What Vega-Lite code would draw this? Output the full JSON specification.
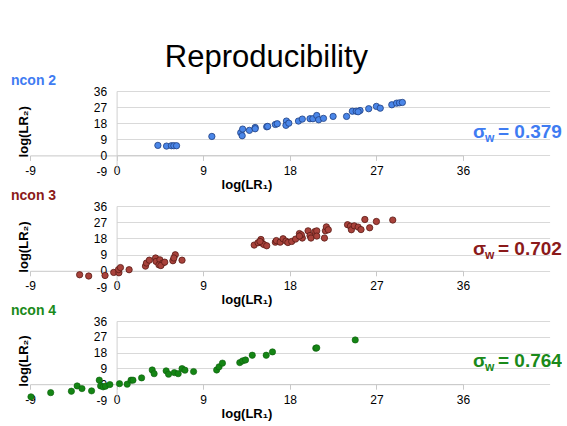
{
  "$schema": "https://vega.github.io/schema/vega-lite/v6.json",
  "padding": {"left": 11, "top": 42, "right": 0, "bottom": 0},
  "background": "white",
  "title": {"text": "Reproducibility", "fontSize": 31, "fontWeight": "normal", "color": "#000000", "anchor": "middle", "dx": -20, "offset": 0},
  "bounds": "flush",
  "spacing": 34,
  "config": {
    "font": "Liberation Sans",
    "view": {"stroke": null},
    "axisX": {"grid": false, "domainColor": "#c8c8c8", "tickColor": "#c8c8c8", "tickSize": 5, "labelFontSize": 12, "labelColor": "#000000", "labelPadding": 5, "labelFlush": false, "labelOverlap": false, "labelExpr": "'' + datum.value", "titleFontSize": 13, "titleFontWeight": "bold", "titlePadding": 2, "titleColor": "#000000"},
    "axisY": {"offset": -86.6, "ticks": false, "domainColor": "#d0d0d0", "grid": true, "gridColor": "#d9d9d9", "labelPadding": 10, "labelFontSize": 12, "labelColor": "#000000", "labelOverlap": false, "labelExpr": "'' + datum.value", "titleFontSize": 13, "titleFontWeight": "bold", "titleColor": "#000000", "titlePadding": 63}
  },
  "datasets": {
    "n2": [
      {"x": 4.29, "y": 5.6}, {"x": 5.19, "y": 5.2}, {"x": 5.7, "y": 5.4}, {"x": 5.95, "y": 5.4}, {"x": 6.23, "y": 5.4},
      {"x": 9.9, "y": 10.6}, {"x": 12.9, "y": 12.7}, {"x": 13.1, "y": 14.7}, {"x": 13.05, "y": 11.0}, {"x": 13.8, "y": 14.0},
      {"x": 14.4, "y": 15.6}, {"x": 14.4, "y": 14.9}, {"x": 15.6, "y": 16.0}, {"x": 15.7, "y": 16.2}, {"x": 16.5, "y": 17.3},
      {"x": 16.7, "y": 17.7}, {"x": 17.65, "y": 19.2}, {"x": 17.6, "y": 16.8}, {"x": 17.9, "y": 18.0}, {"x": 18.9, "y": 19.2},
      {"x": 19.3, "y": 20.3}, {"x": 20.1, "y": 20.5}, {"x": 20.4, "y": 20.5}, {"x": 20.8, "y": 22.3}, {"x": 21.0, "y": 19.9},
      {"x": 21.5, "y": 20.7}, {"x": 22.5, "y": 21.8}, {"x": 23.9, "y": 21.8}, {"x": 24.5, "y": 24.7}, {"x": 24.9, "y": 24.7},
      {"x": 25.3, "y": 25.1}, {"x": 25.1, "y": 24.4}, {"x": 26.2, "y": 26.1}, {"x": 27.0, "y": 27.4}, {"x": 27.4, "y": 26.4},
      {"x": 28.6, "y": 28.3}, {"x": 29.1, "y": 29.2}, {"x": 29.4, "y": 29.4}, {"x": 29.7, "y": 29.6}
    ],
    "n3": [
      {"x": -3.84, "y": -2.2}, {"x": -2.9, "y": -2.9}, {"x": -1.2, "y": -2.6}, {"x": -0.3, "y": -0.9}, {"x": 0.24, "y": -1.1},
      {"x": 0.2, "y": 0.7}, {"x": 0.4, "y": 1.8}, {"x": 1.3, "y": 0.6}, {"x": 3.0, "y": 2.6}, {"x": 3.1, "y": 4.3},
      {"x": 3.4, "y": 5.9}, {"x": 4.05, "y": 7.1}, {"x": 4.1, "y": 5.2}, {"x": 4.5, "y": 6.1}, {"x": 4.4, "y": 3.3},
      {"x": 4.8, "y": 4.3}, {"x": 4.6, "y": 2.9}, {"x": 5.0, "y": 4.8}, {"x": 5.85, "y": 5.6}, {"x": 6.1, "y": 8.9},
      {"x": 5.95, "y": 7.1}, {"x": 6.8, "y": 5.9},
      {"x": 14.3, "y": 14.3}, {"x": 14.7, "y": 15.6}, {"x": 15.0, "y": 17.4}, {"x": 15.1, "y": 15.4}, {"x": 15.3, "y": 14.6},
      {"x": 15.6, "y": 13.9}, {"x": 14.9, "y": 16.3}, {"x": 16.5, "y": 15.9}, {"x": 16.6, "y": 16.8}, {"x": 17.0, "y": 15.9},
      {"x": 17.3, "y": 17.8}, {"x": 17.6, "y": 16.5}, {"x": 17.8, "y": 15.7}, {"x": 18.2, "y": 16.3}, {"x": 18.6, "y": 17.6},
      {"x": 19.0, "y": 20.7}, {"x": 19.3, "y": 18.2}, {"x": 19.2, "y": 20.0}, {"x": 19.0, "y": 19.3}, {"x": 19.9, "y": 22.2},
      {"x": 20.1, "y": 19.6}, {"x": 20.2, "y": 18.2}, {"x": 20.6, "y": 21.8}, {"x": 20.8, "y": 22.2}, {"x": 20.8, "y": 19.3},
      {"x": 21.6, "y": 18.2}, {"x": 21.7, "y": 22.2}, {"x": 21.8, "y": 24.4}, {"x": 22.0, "y": 22.8},
      {"x": 24.0, "y": 25.6}, {"x": 24.3, "y": 24.8}, {"x": 24.4, "y": 22.8}, {"x": 24.7, "y": 25.0}, {"x": 25.1, "y": 24.3},
      {"x": 25.4, "y": 22.9}, {"x": 25.8, "y": 28.5}, {"x": 26.3, "y": 23.9}, {"x": 27.0, "y": 27.4}, {"x": 28.7, "y": 28.2}
    ],
    "n4": [
      {"x": -8.9, "y": -7.2}, {"x": -6.85, "y": -4.8}, {"x": -4.7, "y": -4.0}, {"x": -4.1, "y": -1.0}, {"x": -3.6, "y": -2.5},
      {"x": -2.6, "y": -3.8}, {"x": -1.8, "y": 2.3}, {"x": -1.66, "y": -1.0}, {"x": -1.4, "y": -1.5}, {"x": -1.15, "y": -1.1},
      {"x": -0.7, "y": -0.2}, {"x": 0.3, "y": 0.3}, {"x": 1.1, "y": 0.0}, {"x": 1.5, "y": 2.3}, {"x": 1.7, "y": 2.3},
      {"x": 2.6, "y": 3.6}, {"x": 3.7, "y": 8.1}, {"x": 3.9, "y": 6.0}, {"x": 5.15, "y": 7.6}, {"x": 5.4, "y": 5.7},
      {"x": 6.0, "y": 6.6}, {"x": 6.4, "y": 6.0}, {"x": 6.8, "y": 8.9}, {"x": 7.1, "y": 8.0}, {"x": 8.0, "y": 7.2},
      {"x": 10.4, "y": 8.1}, {"x": 10.65, "y": 9.9}, {"x": 11.0, "y": 12.0}, {"x": 12.8, "y": 12.3}, {"x": 13.1, "y": 13.3},
      {"x": 13.4, "y": 13.8}, {"x": 14.1, "y": 16.5}, {"x": 15.55, "y": 16.5}, {"x": 16.2, "y": 18.4}, {"x": 20.7, "y": 20.5},
      {"x": 20.8, "y": 20.7}, {"x": 24.8, "y": 25.2}
    ],
    "sig": [
      {"panel": "ncon 2", "label": "= 0.379"},
      {"panel": "ncon 3", "label": "= 0.702"},
      {"panel": "ncon 4", "label": "= 0.764"}
    ]
  },
  "vconcat": [
    {
      "width": 433, "height": 80.5,
      "title": {"text": "ncon 2", "anchor": "start", "frame": "group", "dx": -19, "fontSize": 14, "fontWeight": "bold", "color": "#3f7cf2", "offset": -3},
      "resolve": {"axis": {"x": "independent", "y": "independent"}},
      "layer": [
        {
          "data": {"name": "n2"},
          "mark": {"type": "circle", "size": 40, "fill": "#4a86e8", "stroke": "#1f3f80", "strokeWidth": 0.8, "opacity": 1},
          "encoding": {
            "x": {"field": "x", "type": "quantitative", "scale": {"domain": [-9, 36], "nice": false, "zero": false}, "axis": {"values": [-9, 0, 9, 18, 27, 36], "offset": -16.1, "labelOverlap": false, "title": "log(LR₁)"}},
            "y": {"field": "y", "type": "quantitative", "scale": {"domain": [-9, 36], "nice": false, "zero": false}, "axis": {"values": [-9, 0, 9, 18, 27, 36], "labelOverlap": false, "gridOpacity": {"condition": {"test": "datum.value < 0", "value": 0}, "value": 1}, "title": "log(LR₂)"}}
          }
        },
        {"data": {"name": "sig"}, "transform": [{"filter": "datum.panel == 'ncon 2'"}],
         "mark": {"type": "text", "text": "σ", "align": "left", "baseline": "middle", "dx": 10, "fontSize": 19, "fontWeight": "bold", "fill": "#3f7cf2"},
         "encoding": {"x": {"datum": 36, "axis": null}, "y": {"datum": 13, "axis": null}}},
        {"data": {"name": "sig"}, "transform": [{"filter": "datum.panel == 'ncon 2'"}],
         "mark": {"type": "text", "text": "w", "align": "left", "baseline": "middle", "dx": 22, "dy": 6, "fontSize": 12, "fontWeight": "bold", "fill": "#3f7cf2"},
         "encoding": {"x": {"datum": 36, "axis": null}, "y": {"datum": 13, "axis": null}}},
        {"data": {"name": "sig"}, "transform": [{"filter": "datum.panel == 'ncon 2'"}],
         "mark": {"type": "text", "align": "left", "baseline": "middle", "dx": 35, "fontSize": 19, "fontWeight": "bold", "fill": "#3f7cf2"},
         "encoding": {"x": {"datum": 36, "axis": null}, "y": {"datum": 13, "axis": null}, "text": {"field": "label"}}}
      ]
    },
    {
      "width": 433, "height": 81,
      "title": {"text": "ncon 3", "anchor": "start", "frame": "group", "dx": -19, "fontSize": 14, "fontWeight": "bold", "color": "#8b1a1a", "offset": -3},
      "resolve": {"axis": {"x": "independent", "y": "independent"}},
      "layer": [
        {
          "data": {"name": "n3"},
          "mark": {"type": "circle", "size": 40, "fill": "#a8423b", "stroke": "#5a1a15", "strokeWidth": 0.8, "opacity": 1},
          "encoding": {
            "x": {"field": "x", "type": "quantitative", "scale": {"domain": [-9, 36], "nice": false, "zero": false}, "axis": {"values": [-9, 0, 9, 18, 27, 36], "offset": -16.2, "labelOverlap": false, "title": "log(LR₁)"}},
            "y": {"field": "y", "type": "quantitative", "scale": {"domain": [-9, 36], "nice": false, "zero": false}, "axis": {"values": [-9, 0, 9, 18, 27, 36], "labelOverlap": false, "gridOpacity": {"condition": {"test": "datum.value < 0", "value": 0}, "value": 1}, "title": "log(LR₂)"}}
          }
        },
        {"data": {"name": "sig"}, "transform": [{"filter": "datum.panel == 'ncon 3'"}],
         "mark": {"type": "text", "text": "σ", "align": "left", "baseline": "middle", "dx": 10, "fontSize": 19, "fontWeight": "bold", "fill": "#8b1a1a"},
         "encoding": {"x": {"datum": 36, "axis": null}, "y": {"datum": 12.2, "axis": null}}},
        {"data": {"name": "sig"}, "transform": [{"filter": "datum.panel == 'ncon 3'"}],
         "mark": {"type": "text", "text": "w", "align": "left", "baseline": "middle", "dx": 22, "dy": 6, "fontSize": 12, "fontWeight": "bold", "fill": "#8b1a1a"},
         "encoding": {"x": {"datum": 36, "axis": null}, "y": {"datum": 12.2, "axis": null}}},
        {"data": {"name": "sig"}, "transform": [{"filter": "datum.panel == 'ncon 3'"}],
         "mark": {"type": "text", "align": "left", "baseline": "middle", "dx": 35, "fontSize": 19, "fontWeight": "bold", "fill": "#8b1a1a"},
         "encoding": {"x": {"datum": 36, "axis": null}, "y": {"datum": 12.2, "axis": null}, "text": {"field": "label"}}}
      ]
    },
    {
      "width": 433, "height": 79,
      "title": {"text": "ncon 4", "anchor": "start", "frame": "group", "dx": -19, "fontSize": 14, "fontWeight": "bold", "color": "#1a8a1a", "offset": -3},
      "resolve": {"axis": {"x": "independent", "y": "independent"}},
      "layer": [
        {
          "data": {"name": "n4"},
          "mark": {"type": "circle", "size": 40, "fill": "#148514", "stroke": "#0d5e0d", "strokeWidth": 0.6, "opacity": 1},
          "encoding": {
            "x": {"field": "x", "type": "quantitative", "scale": {"domain": [-9, 36], "nice": false, "zero": false}, "axis": {"values": [-9, 0, 9, 18, 27, 36], "offset": -15.8, "labelOverlap": false, "title": "log(LR₁)"}},
            "y": {"field": "y", "type": "quantitative", "scale": {"domain": [-9, 36], "nice": false, "zero": false}, "axis": {"values": [-9, 0, 9, 18, 27, 36], "labelOverlap": false, "gridOpacity": {"condition": {"test": "datum.value < 0", "value": 0}, "value": 1}, "title": "log(LR₂)"}}
          }
        },
        {"data": {"name": "sig"}, "transform": [{"filter": "datum.panel == 'ncon 4'"}],
         "mark": {"type": "text", "text": "σ", "align": "left", "baseline": "middle", "dx": 10, "fontSize": 19, "fontWeight": "bold", "fill": "#1a8a1a"},
         "encoding": {"x": {"datum": 36, "axis": null}, "y": {"datum": 13, "axis": null}}},
        {"data": {"name": "sig"}, "transform": [{"filter": "datum.panel == 'ncon 4'"}],
         "mark": {"type": "text", "text": "w", "align": "left", "baseline": "middle", "dx": 22, "dy": 6, "fontSize": 12, "fontWeight": "bold", "fill": "#1a8a1a"},
         "encoding": {"x": {"datum": 36, "axis": null}, "y": {"datum": 13, "axis": null}}},
        {"data": {"name": "sig"}, "transform": [{"filter": "datum.panel == 'ncon 4'"}],
         "mark": {"type": "text", "align": "left", "baseline": "middle", "dx": 35, "fontSize": 19, "fontWeight": "bold", "fill": "#1a8a1a"},
         "encoding": {"x": {"datum": 36, "axis": null}, "y": {"datum": 13, "axis": null}, "text": {"field": "label"}}}
      ]
    }
  ]
}
